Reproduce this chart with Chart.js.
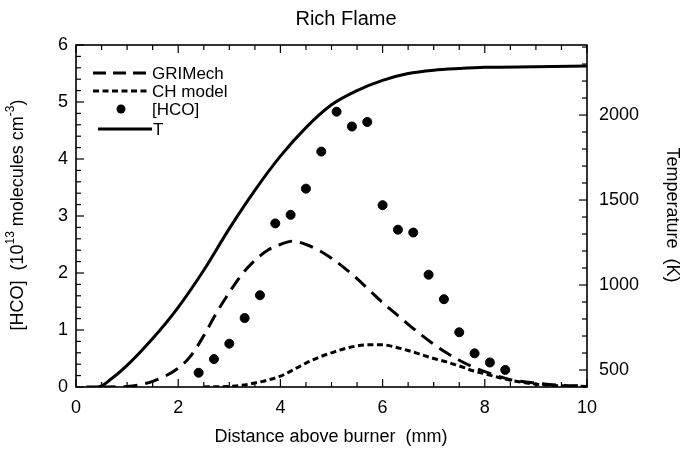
<!DOCTYPE html>
<html>
<head>
<meta charset="utf-8">
<script src="https://cdn.jsdelivr.net/npm/chart.js@4.4.1/dist/chart.umd.min.js"></script>
<style>
  html, body { margin: 0; padding: 0; background: #fff; }
  canvas { display: block; }
</style>
</head>
<body>
<canvas id="chart" width="689" height="451"></canvas>
<script>
"use strict";

// distance above burner (mm) for the model curves
const xModel = [0.2, 0.5, 1, 1.5, 2, 2.25, 2.5, 2.75, 3, 3.25, 3.5, 3.75, 4, 4.25, 4.5, 4.75, 5,
  5.25, 5.5, 5.75, 6, 6.25, 6.5, 6.75, 7, 7.25, 7.5, 7.75, 8, 8.5, 9, 9.5, 10];
const griMech = [null, 0, 0.01, 0.1, 0.33, 0.55, 0.9, 1.3, 1.66, 1.98, 2.22, 2.4, 2.5, 2.56, 2.5, 2.4, 2.26,
  2.09, 1.9, 1.69, 1.48, 1.29, 1.1, 0.92, 0.75, 0.6, 0.47, 0.36, 0.27, 0.13, 0.07, 0.03, 0.02];
const chModel = [null, null, null, null, null, null, 0, 0.005, 0.01, 0.03, 0.07, 0.12, 0.19, 0.3, 0.42, 0.52, 0.6,
  0.67, 0.72, 0.74, 0.74, 0.7, 0.64, 0.57, 0.5, 0.44, 0.37, 0.29, 0.23, 0.12, 0.05, 0.02, 0.01];

// measured [HCO]
const xHco = [2.4, 2.7, 3.0, 3.3, 3.6, 3.9, 4.2, 4.5, 4.8, 5.1, 5.4, 5.7, 6.0, 6.3, 6.6, 6.9, 7.2, 7.5, 7.8, 8.1, 8.4];
const hco = [0.25, 0.49, 0.76, 1.21, 1.61, 2.87, 3.02, 3.48, 4.13, 4.83, 4.57, 4.65, 3.19, 2.76, 2.71, 1.97, 1.54, 0.96, 0.59, 0.43, 0.3];

// temperature (K)
const xTemp = [0.2, 0.45, 0.7, 1, 1.5, 2, 2.5, 3, 3.5, 4, 4.5, 5, 5.5, 6, 6.5, 7, 7.5, 8, 9, 10];
const tempK = [400, 402, 450, 527, 685, 869, 1087, 1332, 1557, 1758, 1926, 2060, 2144, 2204, 2244, 2264, 2274, 2281, 2284, 2288];

const xTicks = [0, 2, 4, 6, 8, 10];
const tempTicks = [500, 1000, 1500, 2000];

const FONT = '"Liberation Sans", Arial, Helvetica, sans-serif';

function toPoints(xs, ys) {
  return xs.map((x, i) => ({ x: x, y: ys[i] }));
}

function line(ctx, x1, y1, x2, y2) {
  ctx.beginPath();
  ctx.moveTo(x1, y1);
  ctx.lineTo(x2, y2);
  ctx.stroke();
}

// box, inward ticks, legend, titles
const frame = {
  id: "frame",
  afterDraw(chart) {
    const ctx = chart.ctx;
    const a = chart.chartArea;
    const { x, y, y2 } = chart.scales;
    ctx.save();
    ctx.strokeStyle = "#000";
    ctx.lineWidth = 1.6;
    ctx.strokeRect(a.left, a.top, a.right - a.left, a.bottom - a.top);

    ctx.lineWidth = 1.2;
    for (let i = 0; i <= 20; i++) {
      const px = x.getPixelForValue(i * 0.5);
      const len = i % 4 === 0 ? 8 : 5;
      line(ctx, px, a.bottom, px, a.bottom - len);
      line(ctx, px, a.top, px, a.top + len);
    }
    for (let i = 0; i <= 30; i++) {
      const py = y.getPixelForValue(i * 0.2);
      const len = i % 5 === 0 ? 8 : 5;
      line(ctx, a.left, py, a.left + len, py);
    }
    for (let k = 400; k <= 2400; k += 100) {
      const py = y2.getPixelForValue(k);
      const len = k % 500 === 0 ? 8 : 5;
      line(ctx, a.right, py, a.right - len, py);
    }

    // legend
    ctx.fillStyle = "#000";
    ctx.font = "17px " + FONT;
    ctx.textBaseline = "middle";
    ctx.textAlign = "left";
    ctx.lineWidth = 3;
    ctx.setLineDash([13, 7]);
    line(ctx, 93, 73, 150, 73);
    ctx.fillText("GRIMech", 152, 74);
    ctx.setLineDash([6, 3.5]);
    line(ctx, 93, 91, 150, 91);
    ctx.fillText("CH model", 152, 92);
    ctx.setLineDash([]);
    ctx.beginPath();
    ctx.arc(121, 109, 4.5, 0, Math.PI * 2);
    ctx.fill();
    ctx.fillText("[HCO]", 152, 110);
    line(ctx, 98, 129, 152, 129);
    ctx.fillText("T", 153, 130);

    // title
    ctx.textAlign = "center";
    ctx.font = "20px " + FONT;
    ctx.fillText("Rich Flame", 346, 19);

    // x title
    ctx.font = "18px " + FONT;
    ctx.fillText("Distance above burner  (mm)", 331, 437);

    // right title
    ctx.save();
    ctx.translate(672, 215);
    ctx.rotate(Math.PI / 2);
    ctx.fillText("Temperature  (K)", 0, 0);
    ctx.restore();

    // left title with superscripts
    const parts = [
      ["[HCO]  (10", false], ["13", true], [" molecules cm", false], ["-3", true], [")", false]
    ];
    const big = "18px " + FONT, small = "12px " + FONT;
    let total = 0;
    for (const [t, sup] of parts) {
      ctx.font = sup ? small : big;
      total += ctx.measureText(t).width;
    }
    ctx.save();
    ctx.translate(18, 215);
    ctx.rotate(-Math.PI / 2);
    ctx.textAlign = "left";
    let cx = -total / 2;
    for (const [t, sup] of parts) {
      ctx.font = sup ? small : big;
      ctx.fillText(t, cx, sup ? -7 : 0);
      cx += ctx.measureText(t).width;
    }
    ctx.restore();
    ctx.restore();
  }
};

const tickFont = { family: FONT, size: 18 };

new Chart(document.getElementById("chart"), {
  type: "scatter",
  data: {
    datasets: [
      {
        label: "T",
        type: "line",
        data: toPoints(xTemp, tempK),
        yAxisID: "y2",
        borderColor: "#000",
        borderWidth: 3,
        pointRadius: 0,
        cubicInterpolationMode: "monotone",
        fill: false
      },
      {
        label: "GRIMech",
        type: "line",
        data: toPoints(xModel, griMech),
        yAxisID: "y",
        borderColor: "#000",
        borderWidth: 3,
        borderDash: [14, 8],
        pointRadius: 0,
        cubicInterpolationMode: "monotone",
        fill: false
      },
      {
        label: "CH model",
        type: "line",
        data: toPoints(xModel, chModel),
        yAxisID: "y",
        borderColor: "#000",
        borderWidth: 3,
        borderDash: [6, 3.5],
        pointRadius: 0,
        cubicInterpolationMode: "monotone",
        fill: false
      },
      {
        label: "[HCO]",
        data: toPoints(xHco, hco),
        yAxisID: "y",
        backgroundColor: "#000",
        borderColor: "#000",
        pointRadius: 4.5,
        pointHoverRadius: 4.5
      }
    ]
  },
  options: {
    responsive: false,
    animation: false,
    devicePixelRatio: 1,
    layout: { padding: { top: 45, left: 0, right: 0, bottom: 0 } },
    plugins: {
      legend: { display: false },
      title: { display: false },
      tooltip: { enabled: false }
    },
    scales: {
      x: {
        type: "linear",
        min: 0,
        max: 10,
        grid: { display: false, drawTicks: false },
        border: { display: false },
        afterBuildTicks(s) { s.ticks = xTicks.map(v => ({ value: v })); },
        ticks: { color: "#000", font: tickFont, padding: 10, maxRotation: 0, callback: v => String(v) },
        afterFit(s) { s.height = 64; }
      },
      y: {
        position: "left",
        min: 0,
        max: 6,
        grid: { display: false, drawTicks: false },
        border: { display: false },
        ticks: { color: "#000", font: tickFont, padding: 8, stepSize: 1, callback: v => String(v) },
        afterFit(s) { s.width = 76; }
      },
      y2: {
        position: "right",
        min: 400,
        max: 2412,
        grid: { display: false, drawTicks: false },
        border: { display: false },
        afterBuildTicks(s) { s.ticks = tempTicks.map(v => ({ value: v })); },
        ticks: { color: "#000", font: tickFont, padding: 12, callback: v => String(v) },
        afterFit(s) { s.width = 102; }
      }
    }
  },
  plugins: [frame]
});
</script>
</body>
</html>
